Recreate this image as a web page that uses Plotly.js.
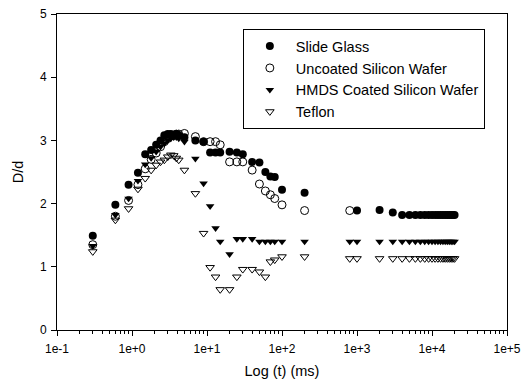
<!DOCTYPE html>
<html>
<head>
<meta charset="utf-8">
<script src="https://cdn.plot.ly/plotly-3.0.1.min.js"></script>
<style>html,body{margin:0;padding:0;background:#fff;}#chart{width:526px;height:385px;}</style>
</head>
<body>
<div id="chart"></div>
<script>
var seriesNames = ["Slide Glass", "Uncoated Silicon Wafer", "HMDS Coated Silicon Wafer", "Teflon"];

var tSlide = [0.3,0.6,0.9,1.2,1.5,1.8,2.1,2.4,2.7,3.0,3.3,3.6,3.9,4.2,5,7,9,11,13,15,20,25,30,40,50,60,70,80,100,200,1000,2000,3000,
  4000,5000,6000,7000,8000,9000,10000,11000,12000,13000,14000,15000,16000,17000,18000,19000,20000];
var dSlide = [1.49,1.98,2.30,2.49,2.78,2.85,2.93,3.00,3.08,3.10,3.10,3.08,3.10,3.08,3.05,3.00,2.98,2.81,2.81,2.81,2.82,2.81,2.78,2.66,2.65,2.50,2.43,2.42,2.22,2.17,1.89,1.90,1.86,
  1.82,1.82,1.82,1.82,1.82,1.82,1.82,1.82,1.82,1.82,1.82,1.82,1.82,1.82,1.82,1.82,1.82];

var tUncoated = [0.3,0.6,0.9,1.2,1.5,1.8,2.1,2.4,2.7,3.0,3.3,3.6,3.9,4.2,5,7,9,11,13,15,20,25,30,40,50,60,70,80,100,200,800];
var dUncoated = [1.35,1.80,2.05,2.30,2.55,2.70,2.80,2.90,2.98,3.03,3.07,3.08,3.10,3.10,3.11,3.06,2.98,2.98,2.98,2.93,2.66,2.66,2.66,2.53,2.31,2.20,2.14,2.08,1.98,1.89,1.89];

var tHMDS = [0.3,0.6,0.9,1.2,1.5,1.8,2.1,2.4,2.7,3.0,3.3,3.6,3.9,4.2,5,7,9,11,13,15,20,25,30,40,50,60,70,80,100,200,800,1000,2000,3000,
  4000,5000,6000,7000,8000,9000,10000,11000,12000,13000,14000,15000,16000,17000,18000,19000,20000];
var dHMDS = [1.33,1.82,2.08,2.36,2.62,2.72,2.82,2.90,2.95,3.00,3.03,3.05,3.05,3.03,2.98,2.71,2.32,1.96,1.61,1.40,1.20,1.44,1.44,1.44,1.40,1.40,1.40,1.40,1.40,1.40,1.40,1.40,1.40,1.40,
  1.40,1.40,1.40,1.40,1.40,1.40,1.40,1.40,1.40,1.40,1.40,1.40,1.40,1.40,1.40,1.40,1.40];

var tTeflon = [0.3,0.6,0.9,1.2,1.5,1.8,2.1,2.4,2.7,3.0,3.3,3.6,3.9,4.2,5,7,9,11,13,15,20,25,30,40,50,60,70,80,100,200,800,1000,2000,3000,
  4000,5000,6000,7000,8000,9000,10000,11000,12000,13000,14000,15000,16000,17000,18000,19000,20000];
var dTeflon = [1.24,1.74,1.92,2.23,2.40,2.53,2.61,2.66,2.69,2.74,2.77,2.76,2.72,2.69,2.53,2.16,1.53,0.99,0.84,0.64,0.64,0.84,0.96,0.96,0.92,0.84,1.08,1.11,1.16,1.16,1.13,1.13,1.13,1.13,
  1.13,1.13,1.13,1.13,1.13,1.13,1.13,1.13,1.13,1.13,1.13,1.13,1.13,1.13,1.13,1.13,1.13];

var xTickVals = [0.1,1,10,100,1000,10000,100000];
var xTickLabels = ["1e-1","1e+0","1e+1","1e+2","1e+3","1e+4","1e+5"];
var yTickVals = [0,1,2,3,4,5];
var yTickLabels = ["0","1","2","3","4","5"];

var FONT = "Arial, 'Liberation Sans', sans-serif";

function mk(name, x, y, symbol, size) {
  return {
    type: "scatter", mode: "markers", name: name, x: x, y: y,
    marker: {symbol: symbol, size: size, color: "#000", line: {color: "#000", width: 1}},
    cliponaxis: false
  };
}

var data = [
  mk(seriesNames[0], tSlide, dSlide, "circle", 8),
  mk(seriesNames[1], tUncoated, dUncoated, "circle-open", 8),
  mk(seriesNames[2], tHMDS, dHMDS, "triangle-down", 7.5),
  mk(seriesNames[3], tTeflon, dTeflon, "triangle-down-open", 7.5)
];
data[0].marker.line.width = 0;
data[2].marker.line.width = 0;

var layout = {
  width: 526, height: 385,
  margin: {l: 57, r: 19, t: 14, b: 55},
  paper_bgcolor: "#fff", plot_bgcolor: "#fff",
  font: {family: FONT, color: "#000", size: 12},
  showlegend: true,
  legend: {
    x: 0.413, y: 0.952, xanchor: "left", yanchor: "top",
    bordercolor: "#000", borderwidth: 1, bgcolor: "#fff",
    font: {family: FONT, size: 14.5, color: "#000"},
    itemwidth: 42, tracegroupgap: 0
  },
  xaxis: {
    type: "log", range: [-1, 5],
    tickmode: "array", tickvals: xTickVals, ticktext: xTickLabels,
    ticks: "outside", ticklen: 5, tickwidth: 1, tickcolor: "#000",
    ticklabelstandoff: 3,
    minor: {ticks: "outside", ticklen: 3, tickwidth: 1, tickcolor: "#000", dtick: "D1", showgrid: false},
    showline: true, linecolor: "#000", linewidth: 1, mirror: true,
    showgrid: false, zeroline: false,
    tickfont: {family: FONT, size: 12, color: "#000"},
    title: {text: "Log (t) (ms)", font: {family: FONT, size: 14.5, color: "#000"}, standoff: 10}
  },
  yaxis: {
    range: [0, 5],
    tickmode: "array", tickvals: yTickVals, ticktext: yTickLabels,
    ticks: "outside", ticklen: 5, tickwidth: 1, tickcolor: "#000",
    ticklabelstandoff: 2,
    showline: true, linecolor: "#000", linewidth: 1, mirror: true,
    showgrid: false, zeroline: false,
    tickfont: {family: FONT, size: 12, color: "#000"},
    title: {text: "D/d", font: {family: FONT, size: 14.5, color: "#000"}, standoff: 12}
  }
};

Plotly.newPlot("chart", data, layout, {displayModeBar: false, staticPlot: true});
</script>
</body>
</html>
